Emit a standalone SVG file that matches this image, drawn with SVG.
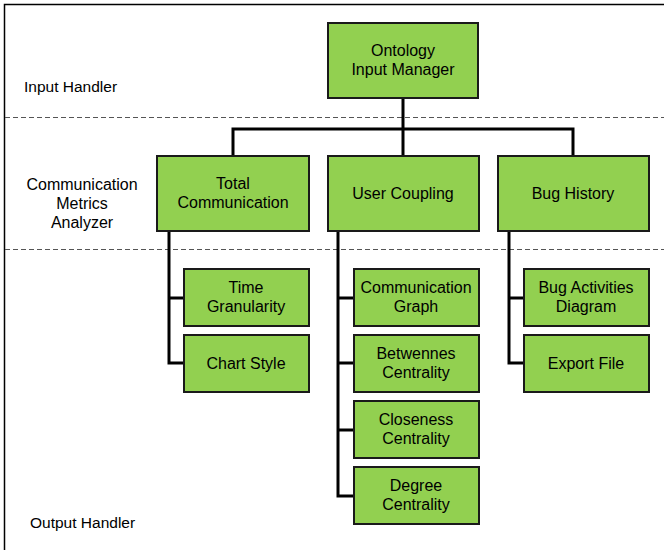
<svg xmlns="http://www.w3.org/2000/svg" width="664" height="550" viewBox="0 0 664 550">
<style>
.box{fill:#92D050;stroke:#1a1a1a;stroke-width:2}
.t{font-family:"Liberation Sans",Arial,sans-serif;font-size:16px;fill:#000;text-anchor:middle}
.lab{font-family:"Liberation Sans",Arial,sans-serif;font-size:15.5px;fill:#000}
.c{fill:none;stroke:#000;stroke-width:3}
.d{stroke:#555;stroke-width:1;stroke-dasharray:5,3}
</style>
<rect width="664" height="550" fill="#fff"/>
<g id="frame">
<path d="M4.5,550 V4.5 H664" fill="none" stroke="#000" stroke-width="1.5"/>
<line class="d" x1="5" y1="117.5" x2="664" y2="117.5"/>
<line class="d" x1="5" y1="249.5" x2="664" y2="249.5"/>
<text class="lab" x="24" y="92">Input Handler</text>
<text class="t" x="82" y="190">Communication</text>
<text class="t" x="82" y="209">Metrics</text>
<text class="t" x="82" y="228">Analyzer</text>
<text class="lab" x="30" y="528">Output Handler</text>
</g>
<g id="connectors">
<path class="c" d="M403,98 V155 M233,155 V129 H573 V155"/>
<path class="c" d="M169,231 V363 H184 M169,298 H184"/>
<path class="c" d="M338,231 V496 H354 M338,298 H354 M338,363 H354 M338,430 H354"/>
<path class="c" d="M509,231 V363 H524 M509,298 H524"/>
</g>
<g id="ontology"><rect class="box" x="328" y="23" width="150" height="75"/><text class="t" x="403" y="56">Ontology</text><text class="t" x="403" y="75">Input Manager</text></g>
<g id="total"><rect class="box" x="157" y="156" width="152" height="75"/><text class="t" x="233" y="189">Total</text><text class="t" x="233" y="208">Communication</text></g>
<g id="coupling"><rect class="box" x="328" y="156" width="151" height="75"/><text class="t" x="403" y="199">User Coupling</text></g>
<g id="bug"><rect class="box" x="498" y="156" width="151" height="75"/><text class="t" x="573" y="199">Bug History</text></g>
<g id="time"><rect class="box" x="184" y="269" width="125" height="57"/><text class="t" x="246" y="293">Time</text><text class="t" x="246" y="312">Granularity</text></g>
<g id="chart"><rect class="box" x="184" y="335" width="125" height="57"/><text class="t" x="246" y="369">Chart Style</text></g>
<g id="graph"><rect class="box" x="354" y="269" width="125" height="57"/><text class="t" x="416" y="293">Communication</text><text class="t" x="416" y="312">Graph</text></g>
<g id="betw"><rect class="box" x="354" y="335" width="125" height="57"/><text class="t" x="416" y="359">Betwennes</text><text class="t" x="416" y="378">Centrality</text></g>
<g id="close"><rect class="box" x="354" y="401" width="125" height="57"/><text class="t" x="416" y="425">Closeness</text><text class="t" x="416" y="444">Centrality</text></g>
<g id="degree"><rect class="box" x="354" y="467" width="125" height="57"/><text class="t" x="416" y="491">Degree</text><text class="t" x="416" y="510">Centrality</text></g>
<g id="bugact"><rect class="box" x="524" y="269" width="125" height="57"/><text class="t" x="586" y="293">Bug Activities</text><text class="t" x="586" y="312">Diagram</text></g>
<g id="export"><rect class="box" x="524" y="335" width="125" height="57"/><text class="t" x="586" y="369">Export File</text></g>
</svg>
